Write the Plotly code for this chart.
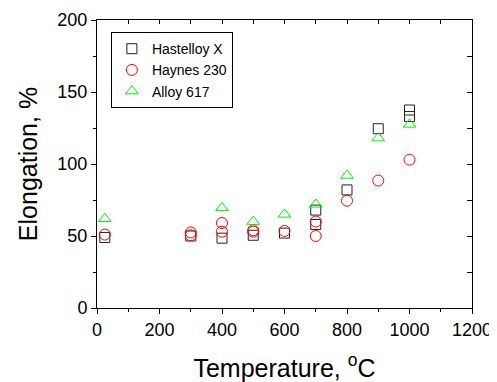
import plotly.graph_objects as go

hx_temp = [25, 300, 400, 500, 600, 700, 700, 800, 900, 1000, 1000]
hx_elong = [49, 50, 48.5, 50.5, 52, 68, 58, 82, 124.5, 137.5, 133]

h230_temp = [25, 300, 300, 400, 400, 500, 500, 600, 700, 700, 800, 900, 1000]
h230_elong = [51, 52.5, 50.5, 59, 53, 54, 53, 53.5, 60, 50, 74.5, 88.5, 103]

a617_temp = [25, 400, 500, 600, 700, 800, 900, 1000]
a617_elong = [62, 69.5, 60, 65, 72, 92, 118, 127.5]

x_ticks = [0, 200, 400, 600, 800, 1000, 1200]
y_ticks = [0, 50, 100, 150, 200]

FONT = "Arial, Liberation Sans, sans-serif"

fig = go.Figure()
fig.add_trace(go.Scatter(x=hx_temp, y=hx_elong, mode="markers", name="Hastelloy X",
                         marker=dict(symbol="square-open", size=10, color="#222222", line=dict(width=1))))
fig.add_trace(go.Scatter(x=h230_temp, y=h230_elong, mode="markers", name="Haynes 230",
                         marker=dict(symbol="circle-open", size=11, color="#ff0000", line=dict(width=1))))
fig.add_trace(go.Scatter(x=a617_temp, y=a617_elong, mode="markers", name="Alloy 617",
                         marker=dict(symbol="triangle-up-open", size=11, color="#00ee00", line=dict(width=1))))
# helper trace to activate mirrored (inside-tick) axes
fig.add_trace(go.Scatter(x=[None], y=[None], xaxis="x2", yaxis="y2", showlegend=False,
                         hoverinfo="skip", mode="markers"))

fig.update_layout(
    width=489, height=374,
    margin=dict(l=89, r=25, t=12, b=74),
    paper_bgcolor="white", plot_bgcolor="white",
    font=dict(family=FONT, color="black"),
    showlegend=True,
    legend=dict(x=0.037, y=0.958, xanchor="left", yanchor="top",
                bordercolor="black", borderwidth=1, bgcolor="white",
                font=dict(size=14, family=FONT), tracegroupgap=0,
                itemwidth=30),
    xaxis=dict(range=[0, 1200], tickvals=x_ticks, ticks="outside", ticklen=5,
               tickwidth=1, tickcolor="black", showline=True, linecolor="black",
               linewidth=1, showgrid=False, zeroline=False, automargin=False,
               tickfont=dict(size=18, family=FONT),
               minor=dict(dtick=100, ticks="outside", ticklen=3, tickcolor="black", showgrid=False),
               title=dict(text="Temperature, <sup>o</sup>C", font=dict(size=25, family=FONT), standoff=22)),
    yaxis=dict(range=[0, 200], tickvals=y_ticks, ticks="outside", ticklen=5,
               tickwidth=1, tickcolor="black", showline=True, linecolor="black",
               linewidth=1, showgrid=False, zeroline=False, automargin=False,
               tickfont=dict(size=18, family=FONT),
               minor=dict(dtick=25, ticks="outside", ticklen=3, tickcolor="black", showgrid=False),
               title=dict(text="Elongation, %", font=dict(size=25, family=FONT), standoff=12)),
    xaxis2=dict(range=[0, 1200], overlaying="x", side="top", anchor="y2",
                dtick=100, tick0=0, ticks="inside", ticklen=4, tickcolor="black",
                showticklabels=False, showline=True, linecolor="black", linewidth=1,
                showgrid=False, zeroline=False, automargin=False),
    yaxis2=dict(range=[0, 200], overlaying="y", side="right", anchor="x2",
                dtick=25, tick0=0, ticks="inside", ticklen=5, tickcolor="black",
                showticklabels=False, showline=True, linecolor="black", linewidth=1,
                showgrid=False, zeroline=False, automargin=False),
)

fig.write_html("out.html")
